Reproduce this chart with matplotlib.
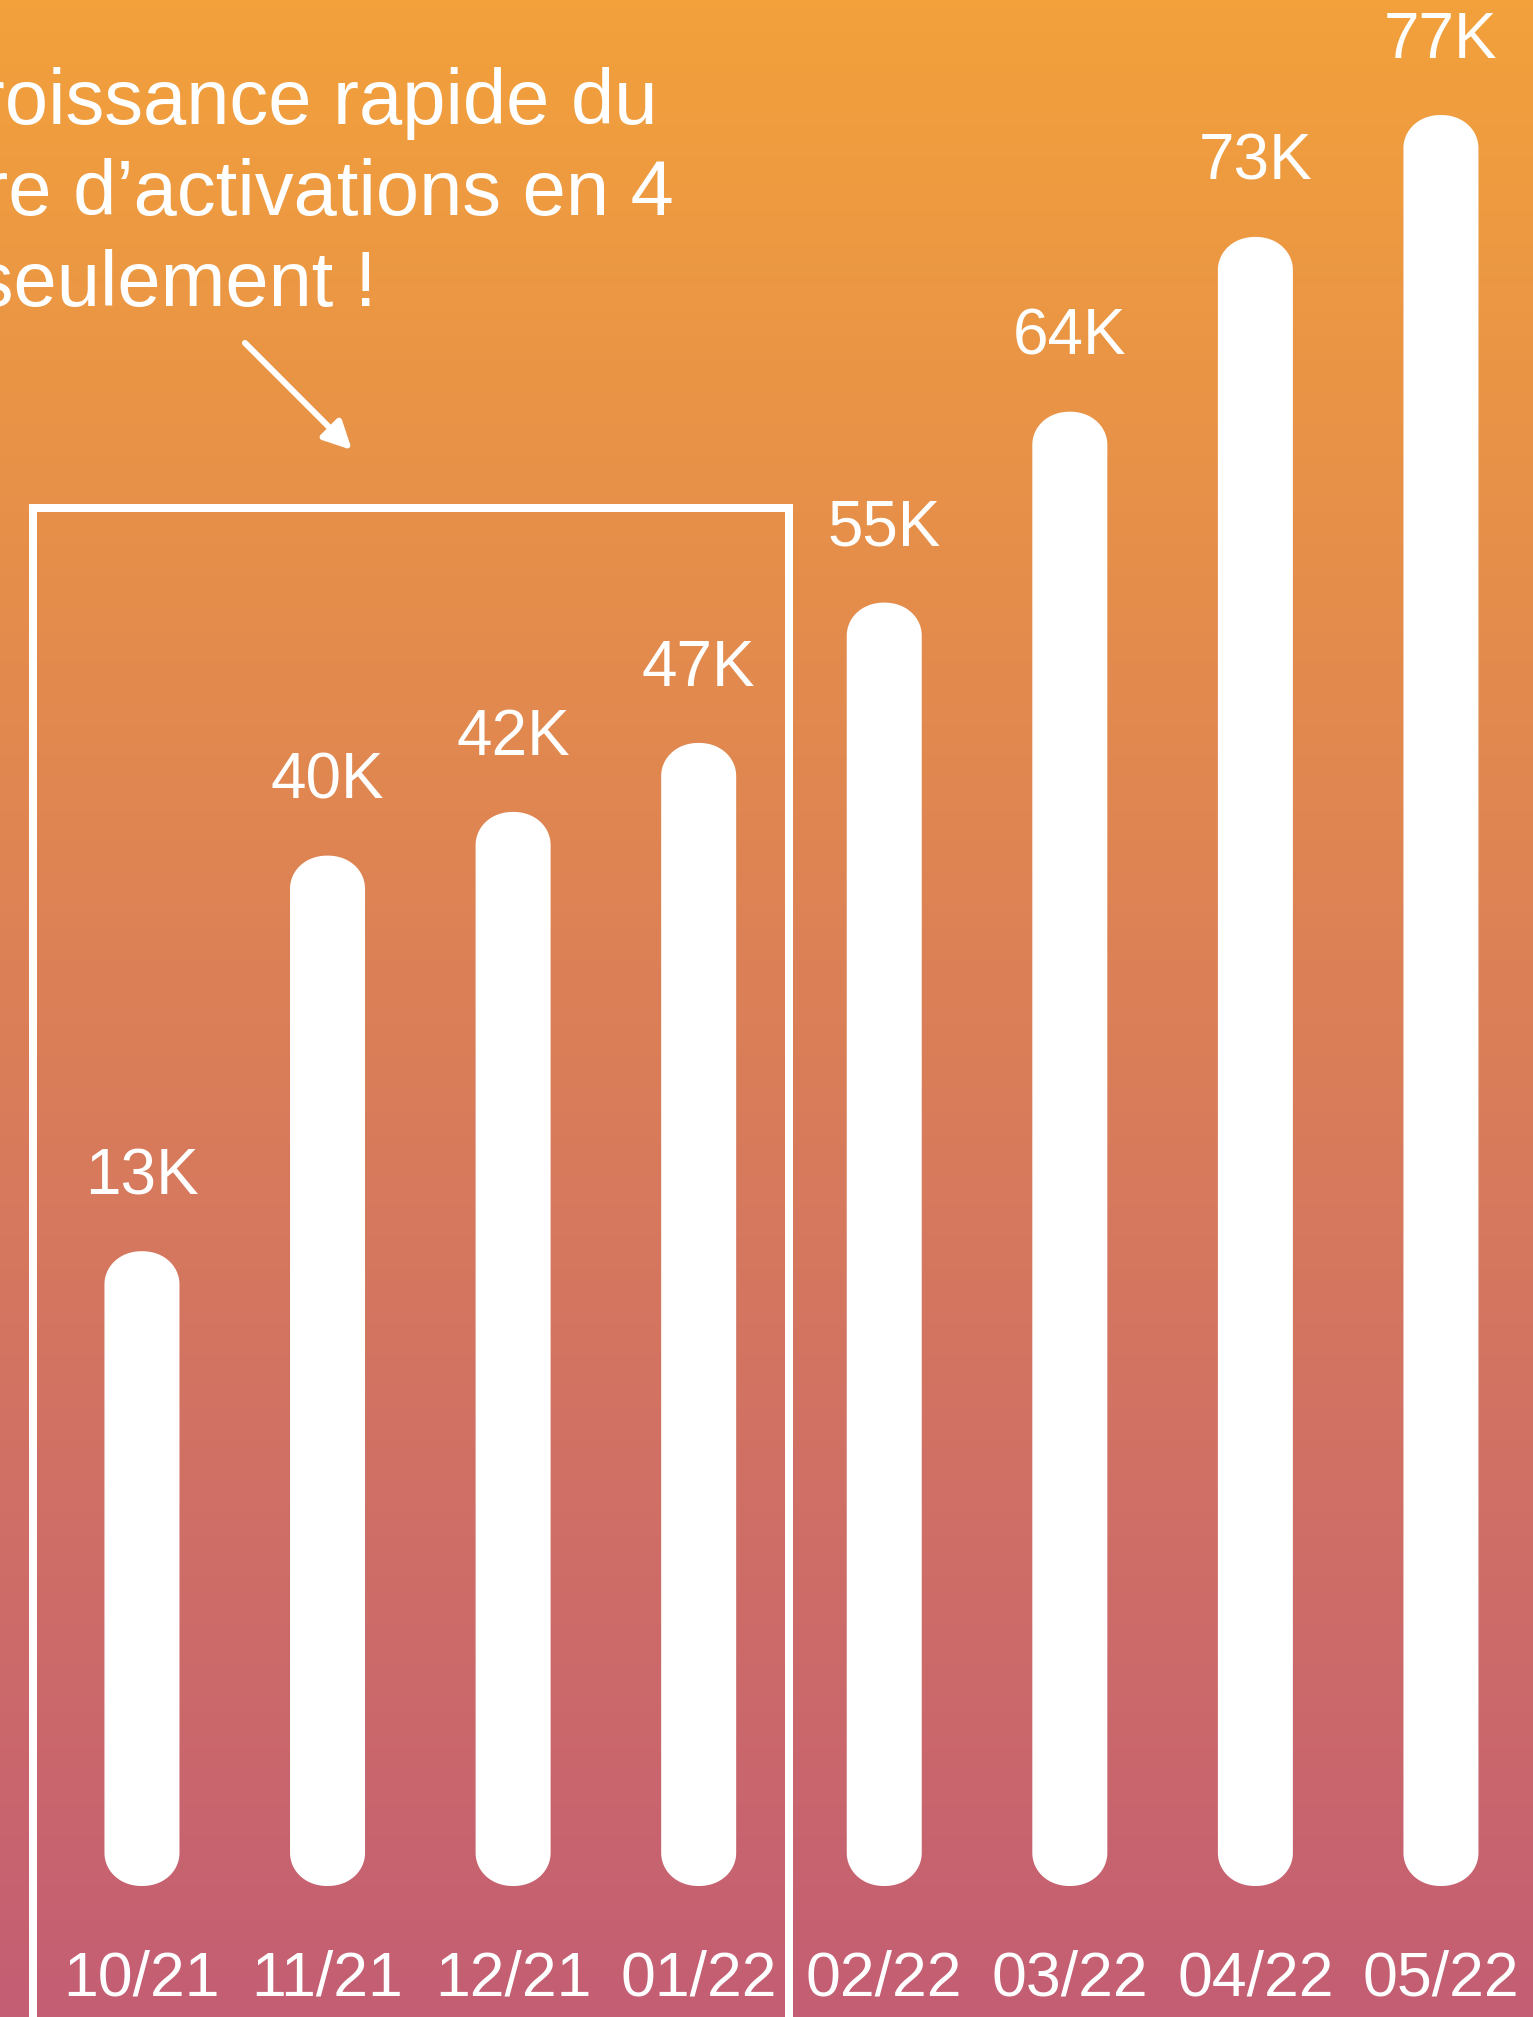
import numpy as np
import matplotlib
matplotlib.use("Agg")
import matplotlib.pyplot as plt
from matplotlib.patches import Polygon
from matplotlib.colors import LinearSegmentedColormap

plt.rcParams['font.family'] = ['Liberation Sans', 'DejaVu Sans']

# data
months = ["10/21", "11/21", "12/21", "01/22", "02/22", "03/22", "04/22", "05/22"]
values = [13, 40, 42, 47, 55, 64, 73, 77]           # activations, in K (labels)
# drawn bar heights (the bars are not to scale with the labels)
bar_heights = [27.6, 44.8, 46.7, 49.7, 55.8, 64.1, 71.7, 77.0]
highlight = (0, 3)  # months inside the white frame
title_lines = ["Une croissance rapide du", "nombre d\u2019activations en 4", "mois seulement !"]

W, H, DPI = 1533, 2017, 100
fig = plt.figure(figsize=(W / DPI, H / DPI), dpi=DPI)

# background gradient
bg = fig.add_axes([0, 0, 1, 1])
cmap = LinearSegmentedColormap.from_list("bg", ["#F2A13B", "#C45E74"])
bg.imshow(np.linspace(0, 1, 256).reshape(-1, 1), aspect='auto', cmap=cmap,
          extent=[0, 1, 0, 1])
bg.set_axis_off()

# main axes: bottom of the bars sits 131 px above the figure bottom
base_px = 131
ax = fig.add_axes([0, base_px / H, 1, (H - base_px) / H])
ax.set_facecolor('none')
xlim = (-0.765, 7.496)
ylim = (0, 82.0)
ax.set_xlim(*xlim)
ax.set_ylim(*ylim)

px_x = W / (xlim[1] - xlim[0])              # pixels per x unit
px_y = (H - base_px) / (ylim[1] - ylim[0])  # pixels per y unit

bar_w = 75 / px_x
cap = 33 / px_y     # height of the rounded ends


def capsule(xc, h):
    # bar outline with rounded ends
    t = np.linspace(0, np.pi, 60)
    c, s = np.cos(t), np.sin(t)
    ex = np.sign(c) * np.abs(c) ** 0.95 * bar_w / 2
    ey = s * cap
    top = np.column_stack([xc + ex, h - cap + ey])
    bot = np.column_stack([xc - ex, cap - ey])
    return np.vstack([top, bot])


x = np.arange(len(months))
for xi, h in zip(x, bar_heights):
    ax.add_patch(Polygon(capsule(xi, h), closed=True, fc='white', ec='none', zorder=3))

for xi, h, v in zip(x, bar_heights, values):
    ax.annotate(f"{v}K", (xi, h), xytext=(0, 57 * 72 / DPI), textcoords='offset points',
                ha='center', va='baseline', color='white', fontsize=46)

ax.set_xticks(x, months)
ax.tick_params(axis='x', length=0, pad=46, labelsize=45, labelcolor='white')
ax.set_yticks([])
for s in ax.spines.values():
    s.set_visible(False)

# white frame around the first four months, open at the bottom
x0 = highlight[0] - 0.585
x1 = highlight[1] + 0.487
ytop = 59.9
ybot = -base_px / px_y - 2
ax.plot([x0, x0, x1, x1], [ybot, ytop, ytop, ybot], color='white',
        lw=8 * 72 / DPI, solid_joinstyle='miter', clip_on=False, zorder=2)

# arrow pointing to the frame
ax.annotate('', xy=(1.132, 62.43), xytext=(0.555, 67.09),
            arrowprops=dict(arrowstyle='-|>', color='white', lw=6 * 72 / DPI,
                            mutation_scale=42, shrinkA=0, shrinkB=0))

# headline, partly off the left edge like in the original
right_px = [658, 674, 377]
for i, (line, rx) in enumerate(zip(title_lines, right_px)):
    fig.text(rx / W, 1 - (124 + 91 * i) / H, line, ha='right', va='baseline',
             color='white', fontsize=56)

fig.savefig("out.png", dpi=DPI)
